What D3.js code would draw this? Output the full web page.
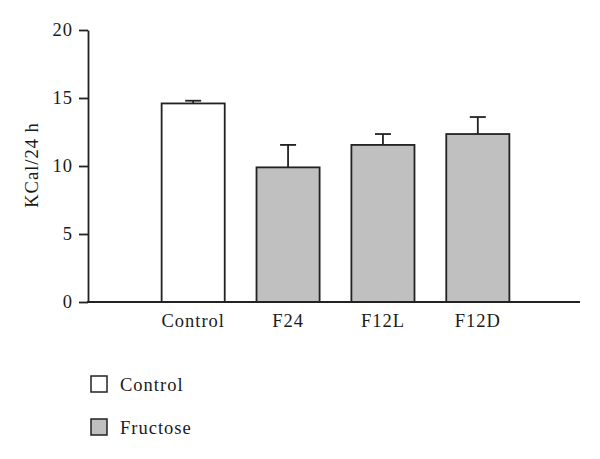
<!DOCTYPE html>
<html>
<head>
<meta charset="utf-8">
<script src="https://cdn.jsdelivr.net/npm/d3@7"></script>
<style>
  body { margin: 0; background: #fff; }
  svg { display: block; }
  text { font-family: "Liberation Serif", "Times New Roman", serif; fill: #1a1a1a; letter-spacing: 1px; }
</style>
</head>
<body>
<svg id="chart" width="600" height="459"></svg>
<script>
const categories = ["Control", "F24", "F12L", "F12D"];
const groups = ["Control", "Fructose", "Fructose", "Fructose"];
const means = [14.6, 9.9, 11.55, 12.35];
const errors = [0.2, 1.65, 0.8, 1.25];
const yTicks = [0, 5, 10, 15, 20];
const legendItems = ["Control", "Fructose"];
const colors = { Control: "#ffffff", Fructose: "#c0c0c0" };

const svg = d3.select("#chart");
const y = d3.scaleLinear().domain([0, 20]).range([302, 30]);
const x = d3.scaleBand().domain(categories).range([145.5, 525.5]).paddingInner(0.335).paddingOuter(0.17);

const stroke = "#222";
const fs = 18.5;

// bars
svg.selectAll("rect.bar").data(categories).join("rect")
  .attr("class", "bar")
  .attr("x", d => x(d))
  .attr("width", x.bandwidth())
  .attr("y", (d, i) => y(means[i]))
  .attr("height", (d, i) => y(0) - y(means[i]))
  .attr("fill", (d, i) => colors[groups[i]])
  .attr("stroke", stroke).attr("stroke-width", 1.8);

// error bars
const eb = svg.selectAll("g.err").data(categories).join("g").attr("class", "err");
eb.append("line")
  .attr("x1", d => x(d) + x.bandwidth() / 2).attr("x2", d => x(d) + x.bandwidth() / 2)
  .attr("y1", (d, i) => y(means[i])).attr("y2", (d, i) => y(means[i] + errors[i]))
  .attr("stroke", stroke).attr("stroke-width", 1.8);
eb.append("line")
  .attr("x1", d => x(d) + x.bandwidth() / 2 - 8).attr("x2", d => x(d) + x.bandwidth() / 2 + 8)
  .attr("y1", (d, i) => y(means[i] + errors[i])).attr("y2", (d, i) => y(means[i] + errors[i]))
  .attr("stroke", stroke).attr("stroke-width", 1.8);

// y axis
const yAxis = svg.append("g").attr("transform", "translate(88,0)")
  .call(d3.axisLeft(y).tickValues(yTicks).tickSize(9).tickPadding(6).tickSizeOuter(0));
yAxis.select(".domain").attr("stroke", stroke).attr("stroke-width", 1.8);
yAxis.selectAll(".tick line").attr("stroke", stroke).attr("stroke-width", 1.8);
yAxis.selectAll(".tick text").attr("font-size", fs).attr("font-family", "Liberation Serif, serif").attr("fill", "#1a1a1a");

// x axis line
svg.append("line").attr("x1", 87).attr("x2", 580).attr("y1", y(0)).attr("y2", y(0))
  .attr("stroke", stroke).attr("stroke-width", 1.8);

// x labels
svg.selectAll("text.xl").data(categories).join("text")
  .attr("class", "xl")
  .attr("x", d => x(d) + x.bandwidth() / 2)
  .attr("y", 327)
  .attr("text-anchor", "middle")
  .attr("font-size", fs)
  .text(d => d);

// y label
svg.append("text")
  .attr("transform", "translate(38,165) rotate(-90)")
  .attr("text-anchor", "middle")
  .attr("font-size", fs)
  .text("KCal/24 h");

// legend
const lg = svg.selectAll("g.lg").data(legendItems).join("g").attr("class", "lg")
  .attr("transform", (d, i) => `translate(91,${376 + i * 43})`);
lg.append("rect").attr("width", 16).attr("height", 16)
  .attr("fill", d => colors[d]).attr("stroke", stroke).attr("stroke-width", 1.5);
lg.append("text").attr("x", 29).attr("y", 15).attr("font-size", fs).text(d => d);
</script>
</body>
</html>
